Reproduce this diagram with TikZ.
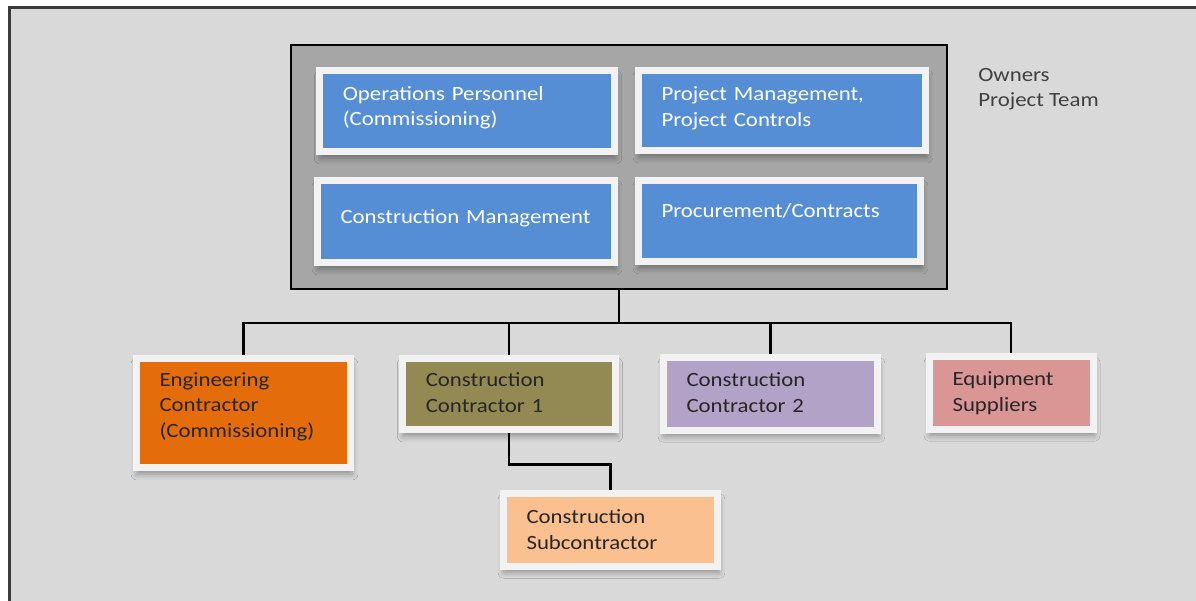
\documentclass[tikz,border=0pt]{standalone}
\usepackage{fontspec}
\setmainfont{Carlito}[FakeStretch=1.13]
\usetikzlibrary{shadows.blur,backgrounds}

\definecolor{panel}{HTML}{D9D9D9}
\definecolor{panelline}{HTML}{3A3A3A}
\definecolor{teamgray}{HTML}{A6A6A6}
\definecolor{framewhite}{HTML}{F2F2F2}
\definecolor{ownerblue}{HTML}{558ED5}
\definecolor{engorange}{HTML}{E46C0A}
\definecolor{cconeolive}{HTML}{938953}
\definecolor{cctwopurple}{HTML}{B3A2C7}
\definecolor{supplypink}{HTML}{D99694}
\definecolor{subpeach}{HTML}{FAC090}
\definecolor{inktext}{HTML}{262626}
\definecolor{labelgray}{HTML}{404040}

\begin{document}
\begin{tikzpicture}[x=0.02cm,y=-0.02cm,
    every node/.style={font=\fontsize{11.5}{14.5}\selectfont},
    unit/.style={draw=framewhite,line width=0.14cm,align=left,inner xsep=0.47cm,text=inktext,
      blur shadow={shadow xshift=0.02cm,shadow yshift=-0.12cm,shadow blur radius=0.12cm,shadow opacity=35}},
    owner/.style={unit,fill=ownerblue,text=white},
    link/.style={line width=0.045cm,draw=black}]
\useasboundingbox (0,0) rectangle (1196,601);

% owners project team
\node[draw=black,line width=0.05cm,fill=teamgray,minimum width=13.12cm,minimum height=4.88cm] (team) at (619,167) {};
\node[owner,text width=4.97cm,minimum height=1.64cm,text depth=0.70cm] (ops) at (467,111) {Operations Personnel\\(Commissioning)};
\node[owner,text width=4.82cm,minimum height=1.62cm,text depth=0.66cm] (pm) at (782,110.5) {Project Management,\\Project Controls};
\node[owner,text width=5.02cm,minimum height=1.66cm,text depth=0.20cm] (cm) at (466,221.5) {Construction Management};
\node[owner,text width=4.72cm,minimum height=1.64cm,text depth=0.42cm] (proc) at (779.5,221) {Procurement/Contracts};
\node[anchor=north west,align=left,inner sep=0pt,text=labelgray] (teamlabel) at (978,68) {Owners\\Project Team};

% contractors and suppliers
\node[unit,fill=engorange,text width=3.36cm,minimum height=2.2cm,text depth=1.34cm] (eng) at (243.5,413) {Engineering\\Contractor\\(Commissioning)};
\node[unit,fill=cconeolive,text width=3.33cm,minimum height=1.44cm,text depth=0.56cm] (ccone) at (509,394) {Construction\\Contractor 1};
\node[unit,fill=cctwopurple,text width=3.36cm,minimum height=1.45cm,text depth=0.56cm] (cctwo) at (770.5,394) {Construction\\Contractor 2};
\node[unit,fill=supplypink,text width=2.34cm,minimum height=1.45cm] (equip) at (1011,393) {Equipment\\Suppliers};
\node[unit,fill=subpeach,text width=3.36cm,minimum height=1.45cm,text depth=0.52cm] (sub) at (610.5,530) {Construction\\Subcontractor};

\begin{scope}[on background layer]
  \fill[white] (0,0) rectangle (1196,601);
  \begin{scope}
    \clip (0,0) rectangle (1196,601);
    \draw[panelline,fill=panel,line width=0.05cm] (9.5,7.5) rectangle (1220,620);
  \end{scope}
  % connectors
  \coordinate (bus) at (619,323);
  \draw[link] (team.south) -- (bus);
  \foreach \n in {eng,ccone,cctwo,equip}
    \draw[link] (bus) -| (\n.north);
  \draw[link] (ccone.south) -- ++(0,31) -| (sub.north);
\end{scope}
\end{tikzpicture}
\end{document}
